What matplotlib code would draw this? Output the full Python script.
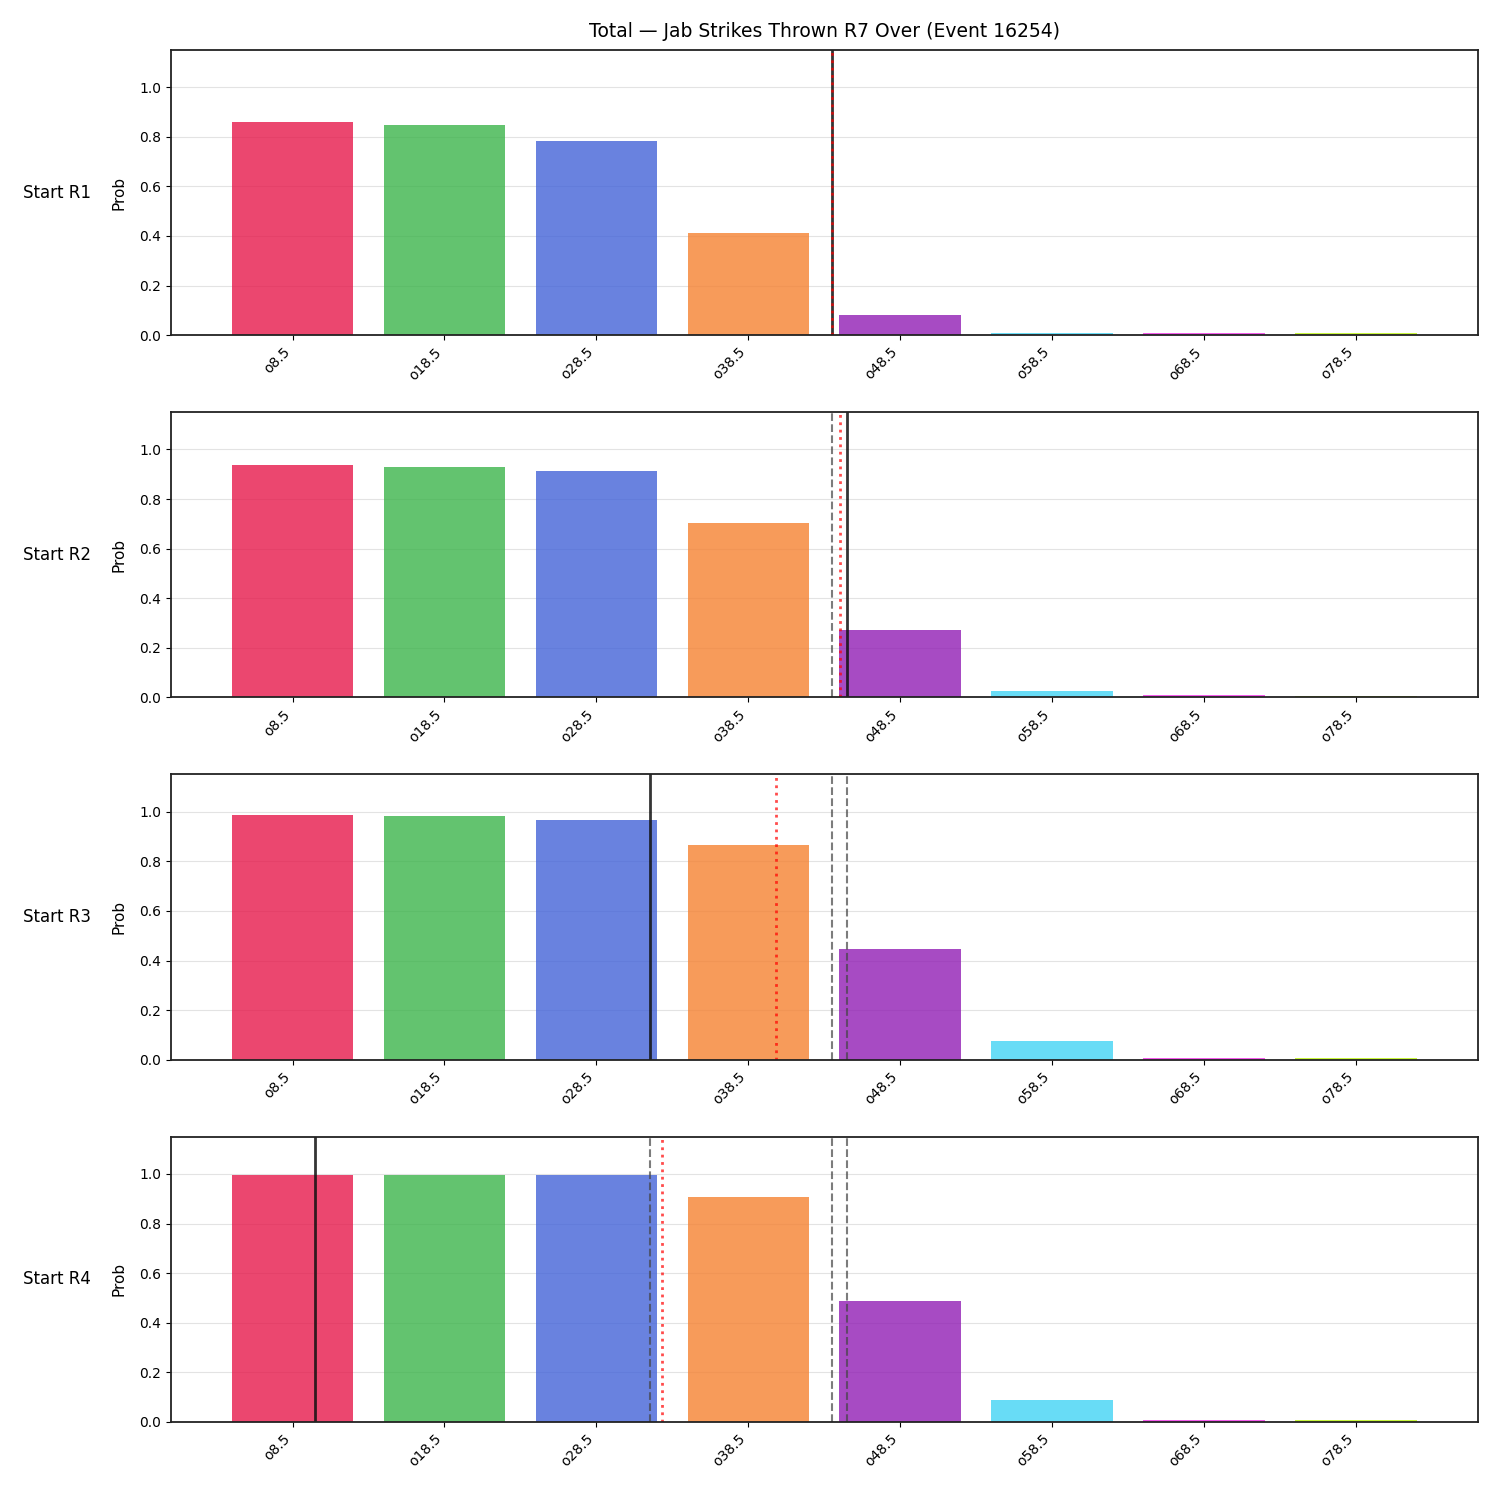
import matplotlib
matplotlib.use("Agg")
import matplotlib.pyplot as plt
import numpy as np

title = "Total — Jab Strikes Thrown R7 Over (Event 16254)"
labels = ["o8.5", "o18.5", "o28.5", "o38.5", "o48.5", "o58.5", "o68.5", "o78.5"]
line_values = [8.5, 18.5, 28.5, 38.5, 48.5, 58.5, 68.5, 78.5]
colors = ["#e6194b", "#3cb44b", "#4363d8", "#f58231", "#911eb4", "#42d4f4", "#f032e6", "#bcf60c"]
rows = ["Start R1", "Start R2", "Start R3", "Start R4"]

prob_r1 = [0.858, 0.846, 0.781, 0.413, 0.082, 0.008, 0.008, 0.007]
prob_r2 = [0.939, 0.931, 0.915, 0.704, 0.272, 0.027, 0.008, 0.007]
prob_r3 = [0.988, 0.984, 0.968, 0.867, 0.445, 0.075, 0.008, 0.007]
prob_r4 = [0.996, 0.996, 0.996, 0.907, 0.487, 0.087, 0.008, 0.007]
probs = [prob_r1, prob_r2, prob_r3, prob_r4]

# current count at each start (black solid) and projection (red dotted)
current = [44.0, 45.0, 32.0, 10.0]
projection = [44.0, 44.55, 40.3, 32.8]


def to_pos(v):
    return np.interp(v, line_values, np.arange(len(line_values)))


fig, axes = plt.subplots(4, 1, figsize=(15, 15), dpi=100)
fig.subplots_adjust(left=0.114, right=0.985, top=0.9667, bottom=0.052, hspace=0.27)

x = np.arange(len(labels))
for i, ax in enumerate(axes):
    ax.set_axisbelow(True)
    ax.grid(axis="y", color="#dddddd", linewidth=0.8, alpha=0.8)
    ax.bar(x, probs[i], width=0.8, color=colors, alpha=0.8, linewidth=0)
    for j in range(i):
        ax.axvline(to_pos(current[j]), color="#444444", linestyle="--", linewidth=1.5, alpha=0.7)
    ax.axvline(to_pos(current[i]), color="#111111", linewidth=2, alpha=0.85)
    ax.axvline(to_pos(projection[i]), color="red", linestyle=":", linewidth=2, alpha=0.7)
    ax.set_xlim(-0.8, 7.8)
    ax.set_ylim(0, 1.15)
    ax.set_xticks(x)
    ax.set_xticklabels(labels, rotation=45, ha="right", fontsize=10)
    ax.tick_params(axis="y", labelsize=10)
    ax.set_ylabel("Prob", fontsize=11, labelpad=9)
    for s in ax.spines.values():
        s.set_linewidth(1.3)
        s.set_color("#222222")
    pos = ax.get_position()
    fig.text(0.038, (pos.y0 + pos.y1) / 2, rows[i], ha="center", va="center", fontsize=12)

axes[0].set_title(title, fontsize=13.5, pad=9)
fig.savefig("out.png", dpi=100)
